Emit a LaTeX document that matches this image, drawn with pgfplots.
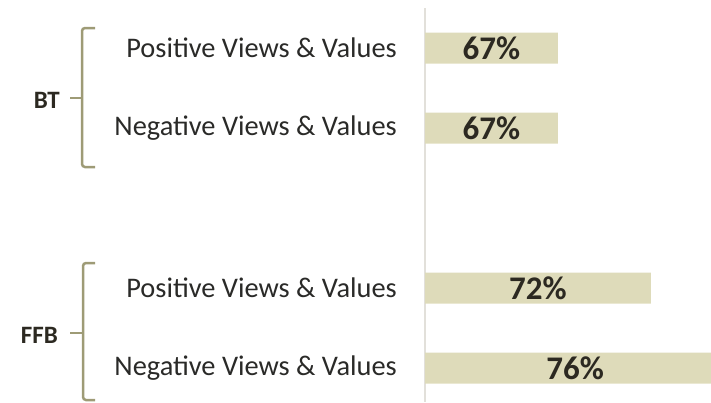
\documentclass[border=0pt]{standalone}
\usepackage{fontspec}
\setmainfont{Carlito}
\usepackage{pgfplots}
\pgfplotsset{compat=1.18}
\definecolor{barc}{RGB}{222,219,186}
\definecolor{brk}{RGB}{158,155,118}
\definecolor{txt}{RGB}{44,41,33}
\definecolor{lbl}{RGB}{42,42,40}
\definecolor{axc}{RGB}{226,224,218}
\begin{document}
\begin{tikzpicture}
\useasboundingbox (0pt,0pt) rectangle (711pt,-402pt);
\begin{axis}[
  at={(425pt,-8pt)}, anchor=north west,
  scale only axis, width=318.8pt, height=394pt,
  xmin=59.86, xmax=77, ymin=-0.5, ymax=4.425,
  y dir=reverse,
  xbar, bar width=31pt,
  axis x line=none,
  axis y line*=left,
  axis line style={axc, line width=2pt, -},
  ytick={0,1,3,4},
  yticklabels={Positive Views \& Values, Negative Views \& Values, Positive Views \& Values, Negative Views \& Values},
  major tick length=0pt,
  yticklabel style={font=\fontsize{28.4}{31}\selectfont, color=lbl, inner sep=0pt, anchor=east, xshift=-28pt},
  /pgf/number format/assume math mode=true,
  point meta=x,
  visualization depends on={x \as \rawx},
  nodes near coords={\pgfmathprintnumber[fixed,precision=0]{\pgfplotspointmeta}\%},
  every node near coord/.append style={anchor=center, font=\bfseries\fontsize{33}{36}\selectfont, color=txt, shift={(axis direction cs:{-(\rawx-59.86)/2},0)}},
]
\addplot[fill=barc, draw=none] coordinates {(67,0) (67,1) (72,3) (76,4)};
\end{axis}
\draw[brk, line width=2.5pt, rounded corners=3pt] (95pt,-28pt) -- (82pt,-28pt) -- (82pt,-167pt) -- (95pt,-167pt);
\draw[brk, line width=2.5pt] (70pt,-98pt) -- (82pt,-98pt);
\node[anchor=east, inner sep=0pt, font=\bfseries\fontsize{25}{28}\selectfont, text=txt] at (60pt,-100pt) {BT};
\draw[brk, line width=2.5pt, rounded corners=3pt] (95pt,-263pt) -- (83pt,-263pt) -- (83pt,-400pt) -- (95pt,-400pt);
\draw[brk, line width=2.5pt] (70pt,-333pt) -- (83pt,-333pt);
\node[anchor=east, inner sep=0pt, font=\bfseries\fontsize{25}{28}\selectfont, text=txt] at (58pt,-335pt) {FFB};
\end{tikzpicture}
\end{document}
